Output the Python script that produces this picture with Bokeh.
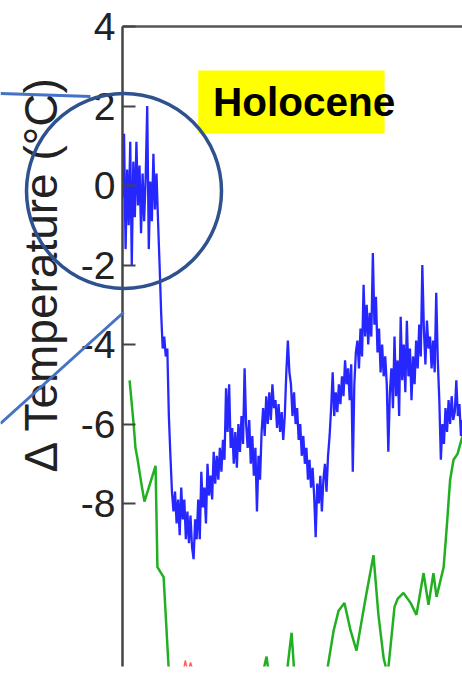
import numpy as np
from bokeh.plotting import figure
from bokeh.layouts import column
from bokeh.models import (Range1d, FixedTicker, LinearAxis, Label, BoxAnnotation,
                          Title)
from bokeh.embed import file_html
from bokeh.resources import INLINE

# ---------------- data ----------------
AGE_STEP = 0.5  # kyr between samples of the blue record
blue_temp = [
    # Holocene 0 - 11.5 kyr
    -0.3, 1.3, -1.6, 0.4, -1.0, 1.1, -2.0, 0.6, -0.8, 1.1, -0.5, 0.5,
    -1.2, 0.3, -0.9, 0.2, 2.0, -1.6, 0.1, -0.9, 0.8, -0.6, 0.3, -0.9,
    # deglaciation 12 - 16 kyr
    -2.0, -3.2, -4.1, -3.8, -4.3, -4.1, -5.8, -6.8, -7.7,
    # glacial maximum 16.5 - 35 kyr
    -8.2, -7.7, -8.5, -7.9, -8.8, -7.6, -8.4, -7.9, -8.9, -8.2, -9.0, -8.3,
    -9.1, -9.4, -8.4, -8.9, -7.9, -8.9, -7.2, -8.1, -7.6, -8.5, -7.0, -7.8,
    -7.3, -7.9, -6.7, -7.5, -6.8, -7.4, -6.6, -7.2, -6.4, -6.9, -5.1, -6.2,
    -5.0, -6.6,
    # 35.5 - 45 kyr
    -6.1, -7.0, -6.2, -7.1, -6.0, -6.7, -5.8, -6.5, -4.6, -6.0, -6.6, -5.9,
    -7.0, -6.3, -7.3, -6.6, -8.2, -6.8, -7.4, -6.2,
    # 45.5 - 55 kyr
    -5.6, -6.3, -5.3, -6.0, -5.2, -5.9, -5.0, -5.6, -5.4, -6.1, -5.5, -6.2,
    -5.7, -6.4, -5.8, -4.7, -3.9, -4.7, -5.0, -5.8,
    # 55.5 - 65 kyr
    -5.2, -6.0, -5.6, -6.4, -6.0, -6.8, -6.3, -7.0, -6.6, -7.4, -6.9, -7.6,
    -7.1, -7.8, -8.85, -7.5, -8.0, -7.3, -8.2, -7.4,
    # 65.5 - 75 kyr
    -7.0, -7.7, -6.8, -6.3, -5.6, -4.7, -5.8, -5.2, -5.7, -5.0, -5.5, -4.8,
    -5.3, -4.4, -5.0, -4.6, -5.4, -4.5, -7.2, -5.0,
    # 75.5 - 85 kyr
    -4.2, -3.9, -4.6, -3.6, -4.3, -2.5, -3.8, -3.0, -4.0, -3.2, -3.8, -1.7,
    -3.5, -2.8, -4.2, -3.6, -4.7, -4.0, -4.8, -4.3,
    # 85.5 - 95 kyr
    -5.0, -6.7, -5.2, -4.6, -5.6, -3.8, -5.3, -4.4, -5.8, -3.3, -4.9, -4.0,
    -5.2, -3.4, -4.8, -4.1, -5.4, -4.3, -5.0, -3.9,
    # 95.5 - 110 kyr
    -4.6, -3.5, -4.3, -2.0, -3.6, -4.5, -3.4, -4.1, -3.8, -4.6, -3.9, -4.7,
    -2.7, -4.4, -5.4, -6.9, -6.0, -6.5, -5.6, -6.2, -5.4, -6.0, -5.3, -5.9,
    -5.7, -4.9, -5.8, -5.5, -6.3, -5.9,
]
blue_age = [round(i * AGE_STEP, 1) for i in range(len(blue_temp))]

green_age = [2.3, 3.6, 4.2, 4.9, 6.1, 7.1, 10.7, 11.3, 13.3, 14.9, 17.2, 25.0,
             35.0, 43.0, 45.3, 46.6, 47.9, 51.1, 53.1, 54.7, 55.7, 59.2, 64.1,
             66.0, 68.3, 69.9, 71.8, 73.8, 75.7, 78.6, 81.2, 82.8, 84.5, 85.8,
             87.1, 88.0, 89.0, 90.9, 93.2, 95.1, 97.4, 99.0, 100.6, 101.6,
             103.9, 104.9, 106.0, 107.1, 108.4, 110.0]
green_temp = [-4.9, -6.0, -6.6, -6.9, -7.5, -7.95, -7.05, -9.6, -9.85, -12.1,
              -13.5, -13.6, -13.2, -12.8, -12.3, -11.85, -12.6, -13.0, -12.3,
              -11.25, -12.4, -13.2, -13.0, -12.3, -11.2, -10.7, -10.5, -11.2,
              -11.7, -10.4, -9.3, -10.8, -11.9, -12.3, -11.3, -10.6, -10.4,
              -10.25, -10.5, -10.8, -9.75, -10.55, -9.75, -10.35, -9.6, -8.6,
              -7.4, -6.9, -6.75, -6.3]

red_age = [17.5, 19.5, 20.3, 21.2, 22.0, 22.8, 24.0, 26.0]
red_temp = [-13.0, -12.3, -11.95, -12.25, -12.0, -12.2, -12.6, -13.2]

y_ticks = [-8, -6, -4, -2, 0, 2, 4]
y_tick_labels = ["-8", "-6", "-4", "-2", "0", "2", "4"]
y_title = "\u0394 Temperature (\u00b0C)"
period_text = "Holocene"

# annotation placement
HOLO_BOX = dict(left=24.5, right=84.8, bottom=1.31, top=2.89)   # data units
HOLO_TEXT_POS = (29.3, 2.10)                                    # data units
YTITLE_OFFSET = 194               # px up from the bottom of the frame
# call-out drawn on a transparent overlay in page pixels
CALLOUT_CIRCLE = dict(x=[123.5], y=[190.5], r=97.5)
CALLOUT_LINES = dict(x0=[0, 123], y0=[93, 312], x1=[90, 0], y1=[96, 423])

FONT = "Liberation Sans"
W, H = 462, 678

p = figure(width=W, height=H, output_backend="svg", toolbar_location=None,
           x_range=Range1d(0, 110), y_range=Range1d(-12.1, 4),
           x_axis_location=None,
           min_border_left=122, min_border_top=26, min_border_right=0,
           min_border_bottom=12, background_fill_color="white",
           border_fill_color="white", outline_line_color=None)
p.grid.visible = False
p.frame_align = False

ax = p.yaxis[0]
ax.ticker = FixedTicker(ticks=y_ticks)
ax.major_label_overrides = {t: s for t, s in zip(y_ticks, y_tick_labels)}
ax.major_tick_in = 13
ax.major_tick_out = 0
ax.minor_tick_line_color = None
ax.major_tick_line_color = "#444444"
ax.major_tick_line_width = 2
ax.axis_line_color = "#444444"
ax.axis_line_width = 2.5
ax.major_label_text_font = FONT
ax.major_label_text_font_size = "39px"
ax.major_label_text_color = "#222222"
ax.major_label_standoff = 7

top = LinearAxis(ticker=FixedTicker(ticks=[]), axis_line_color="#555555",
                 axis_line_width=2.5, major_tick_line_color=None,
                 minor_tick_line_color=None, major_label_text_font_size="0px")
p.add_layout(top, "above")

p.add_layout(Title(text=y_title, align="left", offset=YTITLE_OFFSET, standoff=22,
                   text_font=FONT, text_font_size="46px",
                   text_font_style="normal", text_color="#222222"), "left")

p.line(green_age, green_temp, line_color="#22b022", line_width=2.5)
p.line(red_age, red_temp, line_color="#ff2020", line_width=1.5, line_alpha=0.7)
p.line(blue_age, blue_temp, line_color="#0000ff", line_width=2.3, line_alpha=0.85)

p.add_layout(BoxAnnotation(fill_color="#ffff00", fill_alpha=1.0, line_color=None,
                           **HOLO_BOX))
p.add_layout(Label(x=HOLO_TEXT_POS[0], y=HOLO_TEXT_POS[1], text=period_text,
                   text_font=FONT, text_font_size="40.5px", text_font_style="bold",
                   text_baseline="middle", text_color="black"))

# transparent overlay carrying the call-out circle and its connector lines
ov = figure(width=W, height=H, output_backend="svg", toolbar_location=None,
            x_range=Range1d(0, W), y_range=Range1d(H, 0),
            x_axis_location=None, y_axis_location=None, min_border=0,
            background_fill_color=None, border_fill_color=None,
            outline_line_color=None)
ov.grid.visible = False
ov.frame_align = False
ov.circle(x=CALLOUT_CIRCLE["x"], y=CALLOUT_CIRCLE["y"], radius=CALLOUT_CIRCLE["r"],
          fill_color=None, line_color="#2F528F", line_width=3.5)
ov.segment(x0=CALLOUT_LINES["x0"], y0=CALLOUT_LINES["y0"],
           x1=CALLOUT_LINES["x1"], y1=CALLOUT_LINES["y1"],
           line_color="#4472C4", line_width=3)
ov.margin = (-H, 0, 0, 0)

layout = column(p, ov)
open("out.html", "w").write(file_html(layout, INLINE))
